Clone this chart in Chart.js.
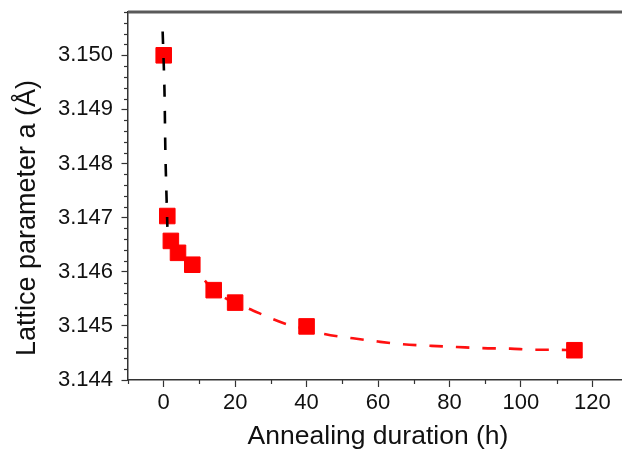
<!DOCTYPE html>
<html>
<head>
<meta charset="utf-8">
<title>Lattice parameter vs annealing duration</title>
<script src="https://cdn.jsdelivr.net/npm/chart.js@4/dist/chart.umd.min.js"></script>
<style>
    html, body { margin: 0; padding: 0; background: #fff; overflow: hidden; }
    #wrap { width: 640px; height: 455px; position: relative; }
</style>
</head>
<body>
<div id="wrap"><canvas id="chart"></canvas></div>
<script>
// measured points
const hours = [0, 1, 2, 4, 8, 14, 20, 40, 115];
const latticeA = [3.15000, 3.14703, 3.14657, 3.14635, 3.14613, 3.14566, 3.14543, 3.14499, 3.14455];

// black dashed fit (first drop)
const fastFitX = [-0.3, 0.2, 0.47, 0.75, 1.03];
const fastFitY = [3.15044, 3.14939, 3.1482, 3.14747, 3.14683];

// red dashed fit (slow decay)
const slowFitX = [2, 4, 8, 10, 12, 14, 20, 23, 34, 40, 45, 53, 60, 67, 75, 82, 89, 97, 104, 108, 115];
const slowFitY = [3.14658, 3.14636, 3.14609, 3.14595, 3.1458, 3.14566, 3.14542, 3.14534, 3.14504, 3.14494,
                  3.14485, 3.14477, 3.14471, 3.14466, 3.14463, 3.14461, 3.14459, 3.14458, 3.14456, 3.14456, 3.14455];

// axis ticks
const xTicks = [0, 20, 40, 60, 80, 100, 120];
const xMinorTicks = [-10, 10, 30, 50, 70, 90, 110, 130];
const yTicks = [3.144, 3.145, 3.146, 3.147, 3.148, 3.149, 3.150];

const xTitle = "Annealing duration (h)";
const yTitle = "Lattice parameter a (Å)";

const FONT = "'Liberation Sans', Arial, sans-serif";

function toXY(xs, ys) {
    return xs.map((x, i) => ({ x: x, y: ys[i] }));
}

// minor ticks, top frame line and the y title
const decorations = {
    id: "decorations",
    afterDraw(chart) {
        const ctx = chart.ctx;
        const area = chart.chartArea;
        const xs = chart.scales.x;
        const ys = chart.scales.y;

        ctx.save();

        // grey frame line along the top
        ctx.fillStyle = "#5a5a5a";
        ctx.fillRect(area.left, area.top - 1.5, chart.width - area.left, 3);

        ctx.strokeStyle = "#333";
        ctx.lineWidth = 1.2;

        // x minor ticks
        xMinorTicks.forEach(v => {
            let px = Math.round(xs.getPixelForValue(v)) + 0.5;
            if (px < area.left || px > area.right) return;
            ctx.beginPath();
            ctx.moveTo(px, area.bottom);
            ctx.lineTo(px, area.bottom + 4);
            ctx.stroke();
        });

        // y minor ticks every 0.0002
        for (let k = 0; k <= 40; k++) {
            let v = 3.144 + k * 0.0002;
            if (v > ys.max + 1e-9) break;
            if (k % 5 == 0) continue;
            let py = Math.round(ys.getPixelForValue(v)) + 0.5;
            ctx.beginPath();
            ctx.moveTo(area.left, py);
            ctx.lineTo(area.left - 4, py);
            ctx.stroke();
        }

        // y title
        ctx.fillStyle = "#111";
        ctx.font = "27px " + FONT;
        ctx.textAlign = "center";
        ctx.textBaseline = "middle";
        ctx.translate(28, (area.top + area.bottom) / 2 + 22);
        ctx.rotate(-Math.PI / 2);
        ctx.fillText(yTitle, 0, 0);
        ctx.restore();
    }
};

new Chart(document.getElementById("chart").getContext("2d"), {
    type: "scatter",
    data: {
        datasets: [
            {
                label: "fast fit",
                data: toXY(fastFitX, fastFitY),
                showLine: true,
                borderColor: "#000",
                borderWidth: 2.6,
                borderDash: [12.5, 14],
                pointRadius: 0,
                tension: 0.3,
                order: 0
            },
            {
                label: "a",
                data: toXY(hours, latticeA),
                showLine: false,
                pointStyle: "rect",
                pointRadius: 11,
                backgroundColor: "#ff0000",
                borderColor: "#ff0000",
                borderWidth: 1,
                order: 1
            },
            {
                label: "slow fit",
                data: toXY(slowFitX, slowFitY),
                showLine: true,
                borderColor: "#ff1010",
                borderWidth: 2.6,
                borderDash: [13.5, 13],
                pointRadius: 0,
                cubicInterpolationMode: "monotone",
                order: 2
            }
        ]
    },
    options: {
        responsive: true,
        maintainAspectRatio: false,
        animation: false,
        devicePixelRatio: 1,
        layout: { padding: { left: 0, top: 8, right: 9, bottom: 0 } },
        plugins: {
            legend: { display: false },
            tooltip: { enabled: false }
        },
        scales: {
            x: {
                type: "linear",
                min: -10,
                max: 130,
                afterBuildTicks: scale => { scale.ticks = xTicks.map(v => ({ value: v })); },
                afterFit: scale => {
                    scale.height = 75;
                    scale.paddingLeft = 0;
                    scale.paddingRight = 0;
                },
                border: { display: true, color: "#333", width: 1.5 },
                grid: { display: true, drawOnChartArea: false, drawTicks: true, tickLength: 7, tickColor: "#333", tickWidth: 1.2 },
                ticks: {
                    color: "#111",
                    padding: 3,
                    maxRotation: 0,
                    font: { family: FONT, size: 22 },
                    callback: v => String(v)
                },
                title: {
                    display: true,
                    text: xTitle,
                    color: "#111",
                    padding: { top: 0, bottom: 2 },
                    font: { family: FONT, size: 26.5 }
                }
            },
            y: {
                type: "linear",
                min: 3.144,
                max: 3.1508,
                afterBuildTicks: scale => { scale.ticks = yTicks.map(v => ({ value: v })); },
                afterFit: scale => {
                    scale.width = 128;
                    scale.paddingTop = 0;
                    scale.paddingBottom = 0;
                },
                border: { display: true, color: "#333", width: 1.5 },
                grid: { display: true, drawOnChartArea: false, drawTicks: true, tickLength: 6.5, tickColor: "#333", tickWidth: 1.2 },
                ticks: {
                    color: "#111",
                    padding: 8.5,
                    font: { family: FONT, size: 22 },
                    callback: v => Number(v).toFixed(3)
                },
                title: { display: false }
            }
        }
    },
    plugins: [decorations]
});
</script>
</body>
</html>
